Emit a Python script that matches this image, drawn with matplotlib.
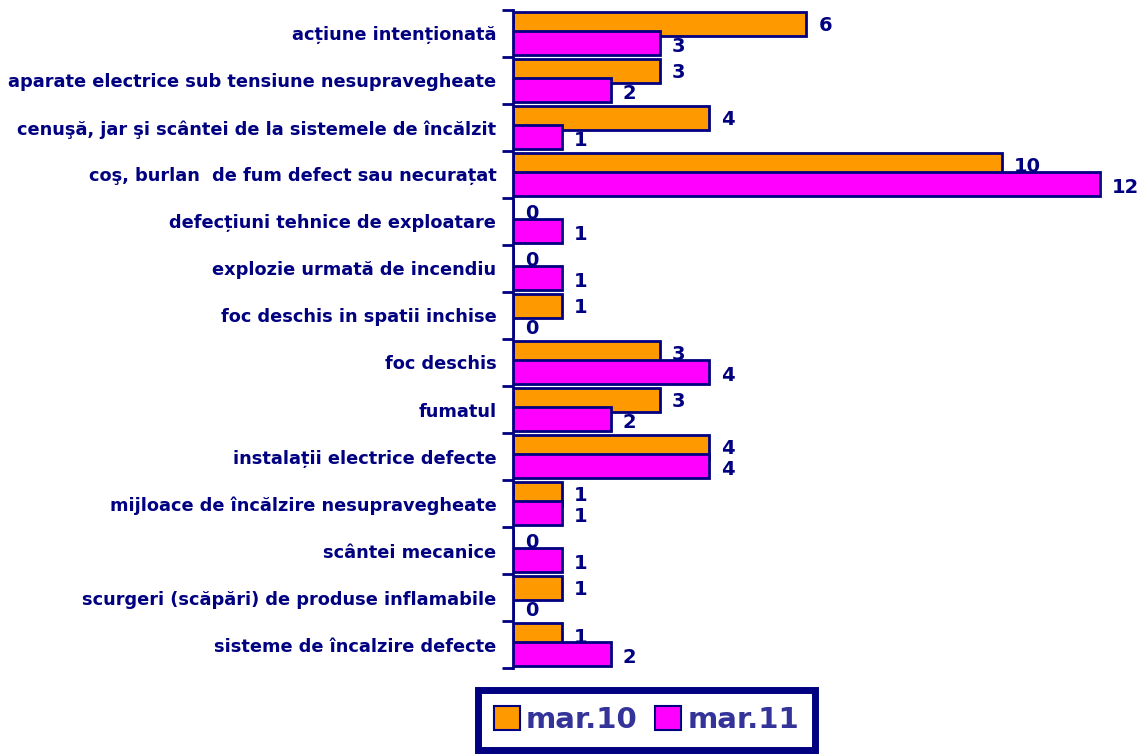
import matplotlib.pyplot as plt
from matplotlib.patches import Patch
import numpy as np

categories = [
    'acțiune intenționată',
    'aparate electrice sub tensiune nesupravegheate',
    'cenuşă, jar şi scântei de la sistemele de încălzit',
    'coş, burlan  de fum defect sau necurațat',
    'defecțiuni tehnice de exploatare',
    'explozie urmată de incendiu',
    'foc deschis in spatii inchise',
    'foc deschis',
    'fumatul',
    'instalații electrice defecte',
    'mijloace de încălzire nesupravegheate',
    'scântei mecanice',
    'scurgeri (scăpări) de produse inflamabile',
    'sisteme de încalzire defecte',
]
mar10 = [6, 3, 4, 10, 0, 0, 1, 3, 3, 4, 1, 0, 1, 1]
mar11 = [3, 2, 1, 12, 1, 1, 0, 4, 2, 4, 1, 1, 0, 2]
series_names = ['mar.10', 'mar.11']

navy = '#000080'
orange = '#FF9900'
magenta = '#FF00FF'

fig = plt.figure(figsize=(11.46, 7.55), dpi=100)
ax = fig.add_axes([0.4476, 0.1152, 0.5505, 0.8716])

y = np.arange(len(categories))
h = 0.5
off = 0.2
ax.barh(y - off, mar10, height=h, color=orange, edgecolor=navy, linewidth=2, zorder=2)
ax.barh(y + off, mar11, height=h, color=magenta, edgecolor=navy, linewidth=2, zorder=3)

for i, (a, b) in enumerate(zip(mar10, mar11)):
    ax.text(a + 0.25, i - off + 0.04, str(a), ha='left', va='center',
            fontsize=14, fontweight='bold', color=navy, zorder=4)
    ax.text(b + 0.25, i + off + 0.08, str(b), ha='left', va='center',
            fontsize=14, fontweight='bold', color=navy, zorder=4)

ax.set_xlim(0, 12.9)
ax.set_ylim(len(categories) - 0.5, -0.5)

ax.set_yticks(y)
ax.set_yticklabels(categories, fontsize=12.8, fontweight='bold', color=navy)
ax.set_yticks(np.arange(len(categories) + 1) - 0.5, minor=True)
ax.tick_params(axis='y', which='major', length=0, pad=12)
ax.tick_params(axis='y', which='minor', length=8, width=2, color=navy)
ax.set_xticks([])

for s in ['top', 'right', 'bottom']:
    ax.spines[s].set_visible(False)
ax.spines['left'].set_color(navy)
ax.spines['left'].set_linewidth(2)

handles = [Patch(facecolor=orange, edgecolor=navy, linewidth=1.5),
           Patch(facecolor=magenta, edgecolor=navy, linewidth=1.5)]
leg = fig.legend(handles, series_names, loc='center',
                 bbox_to_anchor=(0.5641, 0.046), ncol=2, frameon=True,
                 fancybox=False, framealpha=1, handlelength=0.9, handleheight=0.9,
                 handletextpad=0.2, columnspacing=0.6, borderpad=0.55,
                 prop={'weight': 'bold', 'size': 21})
for t in leg.get_texts():
    t.set_color('#333399')
leg.get_frame().set_edgecolor(navy)
leg.get_frame().set_linewidth(5)

fig.savefig('out.png', dpi=100)
